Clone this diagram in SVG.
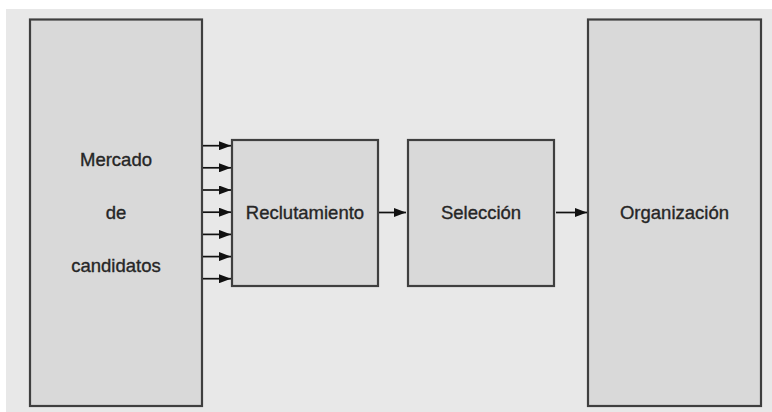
<svg xmlns="http://www.w3.org/2000/svg" width="772" height="412" viewBox="0 0 772 412">
  <defs>
    <marker id="arr" viewBox="0 0 12 9" refX="12" refY="4.5" markerWidth="12" markerHeight="9" markerUnits="userSpaceOnUse" orient="auto">
      <path d="M0,0 L12,4.5 L0,9 Z" fill="#111"/>
    </marker>
  </defs>
  <style>
    .box { fill: #d9d9d9; stroke: #3f3f3f; stroke-width: 2.2; }
    .lbl { font-family: "Liberation Sans", Arial, sans-serif; font-size: 18.5px; fill: #262626; stroke: #262626; stroke-width: 0.35; text-anchor: middle; }
    .con { stroke: #111; stroke-width: 1.7; fill: none; marker-end: url(#arr); }
  </style>
  <rect x="0" y="0" width="772" height="412" fill="#ffffff"/>
  <rect x="6" y="9" width="766" height="403" fill="#e8e8e8"/>

  <g id="mercado">
    <rect class="box" x="30" y="19.5" width="172" height="386.5"/>
    <text class="lbl" x="116" y="166">Mercado</text>
    <text class="lbl" x="116" y="219">de</text>
    <text class="lbl" x="116" y="272">candidatos</text>
  </g>

  <g id="reclutamiento">
    <rect class="box" x="232" y="140" width="146" height="146"/>
    <text class="lbl" x="305" y="219">Reclutamiento</text>
  </g>

  <g id="seleccion">
    <rect class="box" x="408" y="140" width="146" height="146"/>
    <text class="lbl" x="481" y="219">Selección</text>
  </g>

  <g id="organizacion">
    <rect class="box" x="588" y="19.5" width="173" height="386.5"/>
    <text class="lbl" x="674.5" y="219">Organización</text>
  </g>

  <g id="connectors">
    <line class="con" x1="203" y1="145.7" x2="231" y2="145.7"/>
    <line class="con" x1="203" y1="167.8" x2="231" y2="167.8"/>
    <line class="con" x1="203" y1="190" x2="231" y2="190"/>
    <line class="con" x1="203" y1="212.2" x2="231" y2="212.2"/>
    <line class="con" x1="203" y1="234.4" x2="231" y2="234.4"/>
    <line class="con" x1="203" y1="256.6" x2="231" y2="256.6"/>
    <line class="con" x1="203" y1="278.7" x2="231" y2="278.7"/>
    <line class="con" x1="379" y1="212.5" x2="406" y2="212.5"/>
    <line class="con" x1="556" y1="212.5" x2="587" y2="212.5"/>
  </g>
</svg>
